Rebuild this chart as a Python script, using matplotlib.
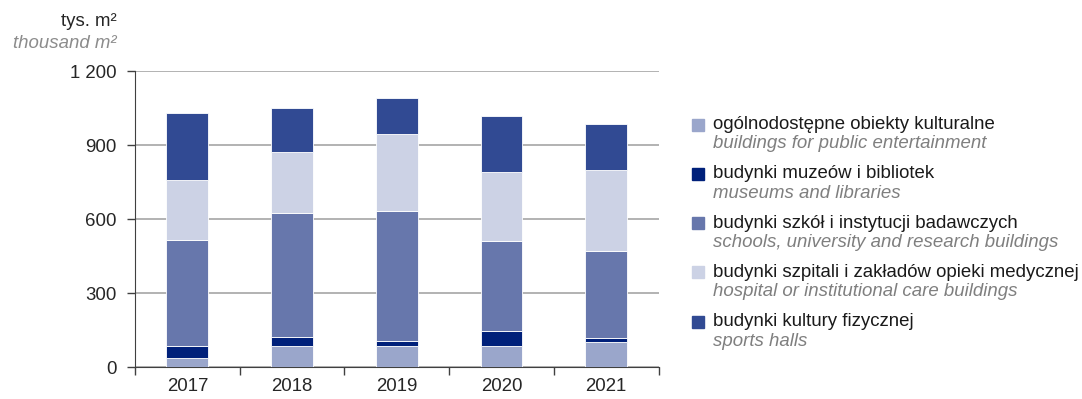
import matplotlib
matplotlib.use("Agg")
import matplotlib.pyplot as plt
from matplotlib.patches import Rectangle
import numpy as np

plt.rcParams['font.family'] = ['Liberation Sans', 'DejaVu Sans']

# dane (tys. m2)
years = ['2017', '2018', '2019', '2020', '2021']
kultura = [35, 84, 84, 84, 102]        # ogólnodostępne obiekty kulturalne
muzea = [50, 38, 23, 62, 16]           # budynki muzeów i bibliotek
szkoly = [430, 504, 524, 363, 353]     # budynki szkół i instytucji badawczych
szpitale = [242, 246, 314, 280, 329]   # budynki szpitali i zakładów opieki medycznej
sport = [272, 180, 145, 227, 184]      # budynki kultury fizycznej

labels_pl = ['ogólnodostępne obiekty kulturalne',
             'budynki muzeów i bibliotek',
             'budynki szkół i instytucji badawczych',
             'budynki szpitali i zakładów opieki medycznej',
             'budynki kultury fizycznej']
labels_en = ['buildings for public entertainment',
             'museums and libraries',
             'schools, university and research buildings',
             'hospital or institutional care buildings',
             'sports halls']
yticks = [0, 300, 600, 900, 1200]
ytick_labels = ['0', '300', '600', '900', '1 200']

colors = ['#9aa6cb', '#00207a', '#6777ac', '#ccd2e5', '#314a93']
series = [kultura, muzea, szkoly, szpitale, sport]

FS = 13.4

fig = plt.figure(figsize=(10.82, 3.99), dpi=100)
ax = fig.add_axes([0.1248, 0.0802, 0.4838, 0.7418])

x = np.arange(len(years))
bottom = np.zeros(len(years))
for vals, c in zip(series, colors):
    ax.bar(x, vals, width=0.4, bottom=bottom, color=c, edgecolor='white',
           linewidth=0.6, zorder=3)
    bottom += np.array(vals)

ax.set_xlim(-0.5, len(years) - 0.5)
ax.set_ylim(0, 1200)
ax.set_yticks(yticks)
ax.set_yticklabels(ytick_labels)
ax.yaxis.grid(True, color='#a6a6a6', linewidth=1.2, zorder=0)

# ticks na osi x między kategoriami
ax.set_xticks(np.arange(-0.5, len(years), 1.0))
ax.set_xticklabels([])
ax.set_xticks(x, minor=True)
ax.set_xticklabels(years, minor=True)
ax.tick_params(axis='x', which='major', length=6, width=1, color='#404040', direction='out')
ax.tick_params(axis='x', which='minor', length=0, pad=8, labelsize=FS, labelcolor='#262626')
ax.tick_params(axis='y', length=6, width=1, color='#404040', pad=7, labelsize=FS,
               labelcolor='#262626')

for s in ['top', 'right']:
    ax.spines[s].set_visible(False)
ax.spines['left'].set_color('#404040')
ax.spines['bottom'].set_color('#404040')

# jednostka
fig.text(117 / 1082, 1 - 22 / 399, 'tys. m²', ha='right', va='center', fontsize=FS,
         color='#262626')
fig.text(117 / 1082, 1 - 43 / 399, 'thousand m²', ha='right', va='center', fontsize=FS,
         color='#8c8c8c', style='italic')

# legenda
W, H = 1082, 399
for i, (c, pl, en) in enumerate(zip(colors, labels_pl, labels_en)):
    yc = 124.5 + i * 49.3
    fig.patches.append(Rectangle((692 / W, 1 - (yc + 6) / H), 12 / W, 12 / H,
                                 transform=fig.transFigure, color=c))
    fig.text(713 / W, 1 - yc / H, pl, ha='left', va='center', fontsize=FS,
             color='#1a1a1a')
    fig.text(713 / W, 1 - (yc + 19.5) / H, en, ha='left', va='center', fontsize=FS,
             color='#7f7f7f', style='italic')

fig.savefig('out.png', dpi=100)
